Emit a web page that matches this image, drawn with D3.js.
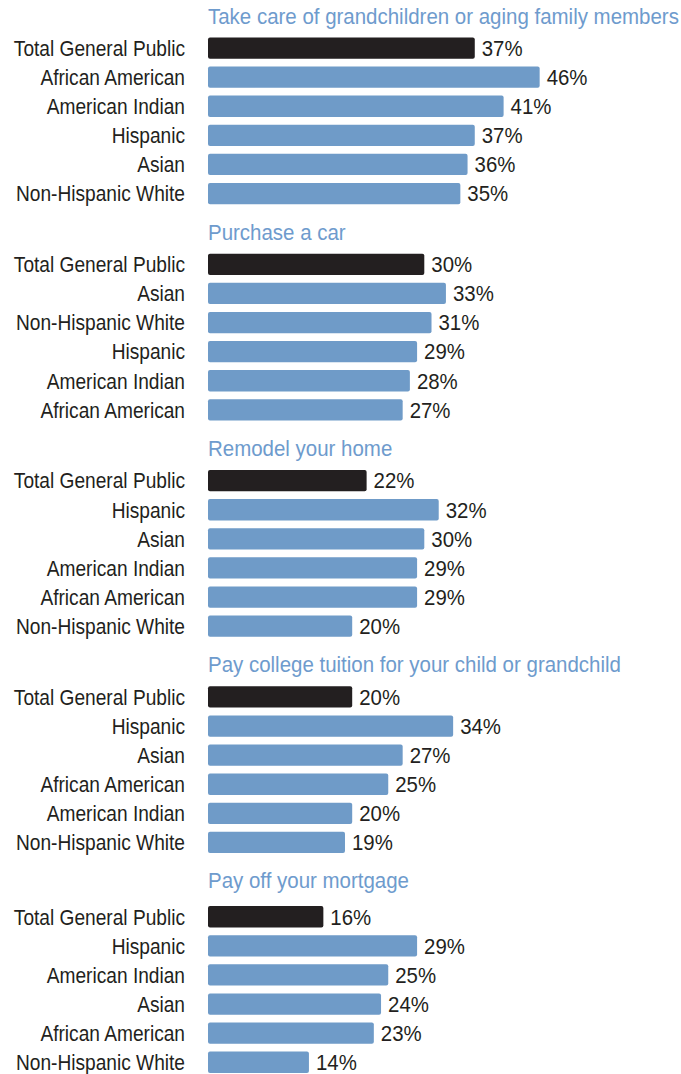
<!DOCTYPE html>
<html>
<head>
<meta charset="utf-8">
<script src="https://cdn.jsdelivr.net/npm/d3@7"></script>
<style>
  html, body { margin: 0; padding: 0; background: #fff; }
  svg { display: block; }
</style>
</head>
<body>
<svg id="chart"></svg>
<script>
// chart values
var titles = [
  "Take care of grandchildren or aging family members",
  "Purchase a car",
  "Remodel your home",
  "Pay college tuition for your child or grandchild",
  "Pay off your mortgage"
];

var careLabels = ["Total General Public", "African American", "American Indian", "Hispanic", "Asian", "Non-Hispanic White"];
var careValues = [37, 46, 41, 37, 36, 35];

var carLabels = ["Total General Public", "Asian", "Non-Hispanic White", "Hispanic", "American Indian", "African American"];
var carValues = [30, 33, 31, 29, 28, 27];

var remodelLabels = ["Total General Public", "Hispanic", "Asian", "American Indian", "African American", "Non-Hispanic White"];
var remodelValues = [22, 32, 30, 29, 29, 20];

var tuitionLabels = ["Total General Public", "Hispanic", "Asian", "African American", "American Indian", "Non-Hispanic White"];
var tuitionValues = [20, 34, 27, 25, 20, 19];

var mortgageLabels = ["Total General Public", "Hispanic", "American Indian", "Asian", "African American", "Non-Hispanic White"];
var mortgageValues = [16, 29, 25, 24, 23, 14];

var groupLabels = [careLabels, carLabels, remodelLabels, tuitionLabels, mortgageLabels];
var groupValues = [careValues, carValues, remodelValues, tuitionValues, mortgageValues];

// layout
var width = 681, height = 1074;
var barLeft = 208;
var labelRight = 185;
var groupStep = 216.3;
var rowStep = 29.1;
var barHeight = 21.3;
var fontSize = 21.5;
var titleSize = 22.5;
var squeeze = 0.89;
var titleSqueeze = 0.91;
var valueSqueeze = 0.95;
var FONT = "'Liberation Sans', Arial, sans-serif";
var BLUE = "#6f9bc8";
var BLACK = "#231f20";
var TITLE_BLUE = "#6e9bcd";
var TEXT = "#231f20";

var svg = d3.select("#chart").attr("width", width).attr("height", height);

var x = d3.scaleLinear().domain([0, 1]).range([barLeft, barLeft + 7.21]);

var groups = svg.selectAll("g.group")
  .data(titles)
  .enter().append("g")
  .attr("class", "group")
  .attr("transform", function(d, i) { return "translate(0," + (i * groupStep) + ")"; });

groups.each(function(title, gi) {
  var g = d3.select(this);
  var labels = groupLabels[gi];
  var values = groupValues[gi];
  var last = gi === titles.length - 1;
  var barsTop = 37.4 + (last ? 3.5 : 0);

  var y = d3.scaleBand()
    .domain(labels)
    .range([barsTop, barsTop + rowStep * (labels.length - 1) + barHeight])
    .paddingInner((rowStep - barHeight) / rowStep)
    .paddingOuter(0);

  g.append("text")
    .attr("transform", "translate(" + barLeft + "," + (23.5 + (last ? -1 : 0)) + ") scale(" + titleSqueeze + ",1)")
    .attr("font-family", FONT)
    .attr("font-size", titleSize)
    .attr("fill", TITLE_BLUE)
    .text(title);

  var rows = g.selectAll("g.row")
    .data(labels.map(function(l, i) { return { label: l, value: values[i], idx: i }; }))
    .enter().append("g")
    .attr("class", "row");

  rows.append("rect")
    .attr("x", x(0))
    .attr("y", function(d) { return y(d.label); })
    .attr("width", function(d) { return x(d.value) - x(0); })
    .attr("height", y.bandwidth())
    .attr("rx", 2)
    .attr("fill", function(d) { return d.idx === 0 ? BLACK : BLUE; });

  rows.append("text")
    .attr("transform", function(d) {
      return "translate(" + labelRight + "," + (y(d.label) + y.bandwidth() / 2 + 7.8) + ") scale(" + squeeze + ",1)";
    })
    .attr("text-anchor", "end")
    .attr("font-family", FONT)
    .attr("font-size", fontSize)
    .attr("fill", TEXT)
    .text(function(d) { return d.label; });

  rows.append("text")
    .attr("transform", function(d) {
      return "translate(" + (x(d.value) + 7) + "," + (y(d.label) + y.bandwidth() / 2 + 7.8) + ") scale(" + valueSqueeze + ",1)";
    })
    .attr("font-family", FONT)
    .attr("font-size", fontSize)
    .attr("fill", TEXT)
    .text(function(d) { return d.value + "%"; });
});
</script>
</body>
</html>
